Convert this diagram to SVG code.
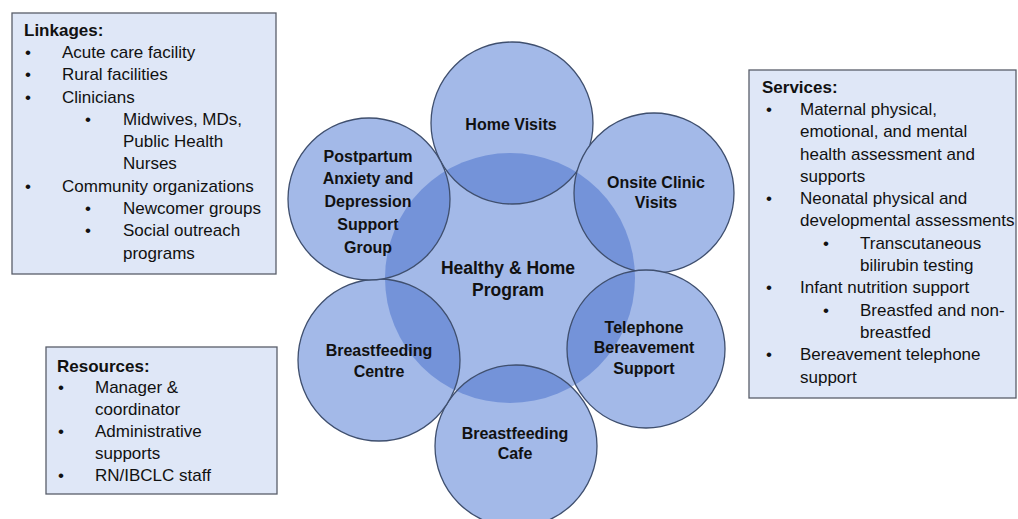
<svg xmlns="http://www.w3.org/2000/svg" width="1018" height="519" viewBox="0 0 1018 519">
<style>
.box{fill:#DFE7F7;stroke:#595E6A;stroke-width:1.3}
.t{font-family:"Liberation Sans",Arial,sans-serif;font-size:17px;fill:#111}
.b{font-weight:bold}
.c{fill:#A3B9E8}
.o{fill:#7493D9}
.s{fill:none;stroke:#3F4F6E;stroke-width:1.3}
.l{font-family:"Liberation Sans",Arial,sans-serif;font-size:16px;font-weight:bold;fill:#111;text-anchor:middle}
.lc{font-size:17.5px}
</style>
<defs>
<clipPath id="cc"><circle cx="510" cy="278" r="125"/></clipPath>
</defs>
<rect width="1018" height="519" fill="#fff"/>

<g id="center">
<circle class="c" cx="510" cy="278" r="125"/>
</g>

<g id="home-visits">
<circle class="c" cx="512" cy="123" r="81"/>
<circle class="o" cx="512" cy="123" r="81" clip-path="url(#cc)"/>
<circle class="s" cx="512" cy="123" r="81"/>
<text class="l" x="511" y="130">Home Visits</text>
</g>

<g id="onsite-clinic">
<circle class="c" cx="654" cy="193" r="80"/>
<circle class="o" cx="654" cy="193" r="80" clip-path="url(#cc)"/>
<circle class="s" cx="654" cy="193" r="80"/>
<text class="l" x="656" y="188">Onsite Clinic</text>
<text class="l" x="656" y="208">Visits</text>
</g>

<g id="telephone">
<circle class="c" cx="646" cy="349" r="79"/>
<circle class="o" cx="646" cy="349" r="79" clip-path="url(#cc)"/>
<circle class="s" cx="646" cy="349" r="79"/>
<text class="l" x="644" y="333">Telephone</text>
<text class="l" x="644" y="353">Bereavement</text>
<text class="l" x="644" y="374">Support</text>
</g>

<g id="bf-cafe">
<circle class="c" cx="516" cy="446" r="81"/>
<circle class="o" cx="516" cy="446" r="81" clip-path="url(#cc)"/>
<circle class="s" cx="516" cy="446" r="81"/>
<text class="l" x="515" y="439">Breastfeeding</text>
<text class="l" x="515" y="459">Cafe</text>
</g>

<g id="bf-centre">
<circle class="c" cx="379" cy="360" r="81"/>
<circle class="o" cx="379" cy="360" r="81" clip-path="url(#cc)"/>
<circle class="s" cx="379" cy="360" r="81"/>
<text class="l" x="379" y="356">Breastfeeding</text>
<text class="l" x="379" y="377">Centre</text>
</g>

<g id="postpartum">
<circle class="c" cx="369" cy="199" r="81"/>
<circle class="o" cx="369" cy="199" r="81" clip-path="url(#cc)"/>
<circle class="s" cx="369" cy="199" r="81"/>
<text class="l" x="368" y="162">Postpartum</text>
<text class="l" x="368" y="184">Anxiety and</text>
<text class="l" x="368" y="207">Depression</text>
<text class="l" x="368" y="230">Support</text>
<text class="l" x="368" y="253">Group</text>
</g>

<g id="center-label">
<text class="l lc" x="508" y="274">Healthy &amp; Home</text>
<text class="l lc" x="508" y="296">Program</text>
</g>

<g id="linkages">
<rect class="box" x="12" y="13" width="264" height="261"/>
<text class="t b" x="24" y="36">Linkages:</text>
<text class="t" x="25" y="58">•</text><text class="t" x="62" y="58">Acute care facility</text>
<text class="t" x="25" y="80">•</text><text class="t" x="62" y="80">Rural facilities</text>
<text class="t" x="25" y="103">•</text><text class="t" x="62" y="103">Clinicians</text>
<text class="t" x="85" y="125">•</text><text class="t" x="123" y="125">Midwives, MDs,</text>
<text class="t" x="123" y="147">Public Health</text>
<text class="t" x="123" y="169">Nurses</text>
<text class="t" x="25" y="192">•</text><text class="t" x="62" y="192">Community organizations</text>
<text class="t" x="85" y="214">•</text><text class="t" x="123" y="214">Newcomer groups</text>
<text class="t" x="85" y="236">•</text><text class="t" x="123" y="236">Social outreach</text>
<text class="t" x="123" y="259">programs</text>
</g>

<g id="services">
<rect class="box" x="749" y="70" width="267" height="328"/>
<text class="t b" x="762" y="93">Services:</text>
<text class="t" x="766" y="115">•</text><text class="t" x="800" y="115">Maternal physical,</text>
<text class="t" x="800" y="137">emotional, and mental</text>
<text class="t" x="800" y="160">health assessment and</text>
<text class="t" x="800" y="182">supports</text>
<text class="t" x="766" y="204">•</text><text class="t" x="800" y="204">Neonatal physical and</text>
<text class="t" x="800" y="226">developmental assessments</text>
<text class="t" x="823" y="249">•</text><text class="t" x="860" y="249">Transcutaneous</text>
<text class="t" x="860" y="271">bilirubin testing</text>
<text class="t" x="766" y="293">•</text><text class="t" x="800" y="293">Infant nutrition support</text>
<text class="t" x="823" y="316">•</text><text class="t" x="860" y="316">Breastfed and non-</text>
<text class="t" x="860" y="338">breastfed</text>
<text class="t" x="766" y="360">•</text><text class="t" x="800" y="360">Bereavement telephone</text>
<text class="t" x="800" y="383">support</text>
</g>

<g id="resources">
<rect class="box" x="46" y="347" width="231" height="147"/>
<text class="t b" x="57" y="372">Resources:</text>
<text class="t" x="58" y="393">•</text><text class="t" x="95" y="393">Manager &amp;</text>
<text class="t" x="95" y="415">coordinator</text>
<text class="t" x="58" y="437">•</text><text class="t" x="95" y="437">Administrative</text>
<text class="t" x="95" y="459">supports</text>
<text class="t" x="58" y="481">•</text><text class="t" x="95" y="481">RN/IBCLC staff</text>
</g>

<g id="connectors"></g>
</svg>
